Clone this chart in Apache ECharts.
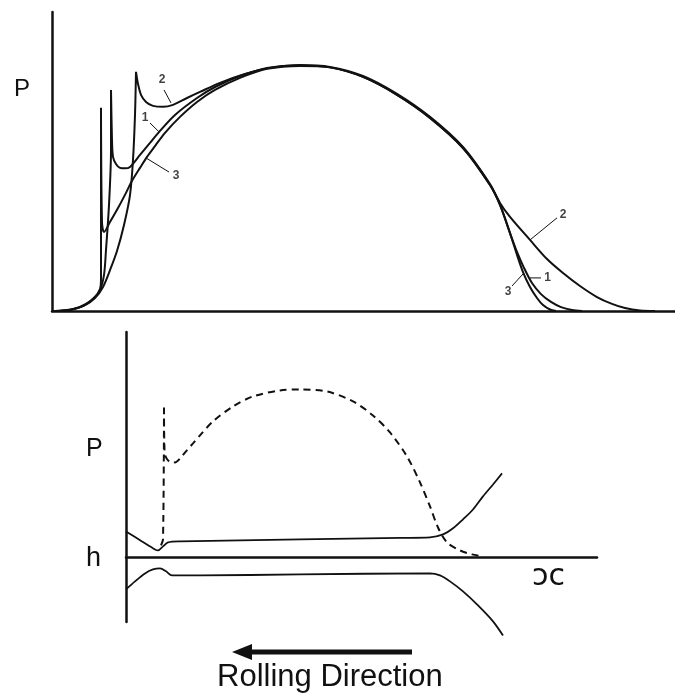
<!DOCTYPE html>
<html>
<head>
<meta charset="utf-8">
<title>EHL pressure and film thickness</title>
<script src="https://cdn.jsdelivr.net/npm/echarts@6/dist/echarts.min.js"></script>
<style>
  html, body { margin: 0; padding: 0; background: #fff; }
  #chart { width: 675px; height: 695px; }
</style>
</head>
<body>
<div id="chart"></div>
<script>
// x in Hertz half-widths (0 = contact centre), P normalised to the Hertz peak.
// A null entry splits a curve at a pressure spike so the smoothing keeps it sharp.
const curve1 = [
  [-1.22, 0], [-1.15, 0.004], [-1.085, 0.02], [-1.035, 0.049], [-1.0, 0.086],
  [-0.98, 0.147], [-0.97, 0.249], [-0.955, 0.433], [-0.945, 0.657], [-0.945, 0.902],
  null,
  [-0.945, 0.902], [-0.94, 0.698], [-0.935, 0.629], [-0.92, 0.6], [-0.9, 0.584],
  [-0.875, 0.582], [-0.85, 0.588], [-0.8, 0.637], [-0.75, 0.686], [-0.7, 0.735],
  [-0.625, 0.8], [-0.515, 0.869], [-0.425, 0.914], [-0.3, 0.959], [-0.165, 0.992],
  [0, 1.002], [0.15, 0.994], [0.315, 0.955], [0.485, 0.882], [0.65, 0.788],
  [0.815, 0.665], [0.95, 0.514], [1.0, 0.433], [1.05, 0.318], [1.085, 0.241],
  [1.12, 0.176], [1.16, 0.114], [1.205, 0.069], [1.255, 0.037], [1.305, 0.016],
  [1.36, 0.004], [1.41, 0]
];

const curve2 = [
  [-1.2, 0], [-1.14, 0.006], [-1.075, 0.024], [-1.025, 0.053], [-0.985, 0.098],
  [-0.95, 0.167], [-0.915, 0.245], [-0.88, 0.351], [-0.85, 0.473], [-0.835, 0.616],
  [-0.825, 0.8], [-0.82, 0.976],
  null,
  [-0.82, 0.976], [-0.81, 0.927], [-0.795, 0.882], [-0.77, 0.853], [-0.735, 0.837],
  [-0.685, 0.833], [-0.635, 0.841], [-0.565, 0.869], [-0.5, 0.894], [-0.4, 0.931],
  [-0.275, 0.967], [-0.15, 0.992], [0, 1.004], [0.15, 0.996], [0.315, 0.959],
  [0.485, 0.886], [0.65, 0.792], [0.815, 0.669], [0.95, 0.518], [1.0, 0.441],
  [1.05, 0.384], [1.15, 0.29], [1.235, 0.212], [1.315, 0.155], [1.4, 0.102],
  [1.485, 0.057], [1.56, 0.029], [1.625, 0.012], [1.7, 0.002], [1.775, 0]
];

const curve3 = [
  [-1.24, 0], [-1.19, 0.002], [-1.125, 0.01], [-1.07, 0.029], [-1.025, 0.057],
  [-1.0, 0.09], [-0.995, 0.135], [-0.995, 0.829],
  null,
  [-0.995, 0.829], [-0.99, 0.363], [-0.98, 0.322], [-0.95, 0.363], [-0.91, 0.42],
  [-0.87, 0.482], [-0.84, 0.531], [-0.8, 0.584], [-0.765, 0.629], [-0.725, 0.673],
  [-0.675, 0.727], [-0.6, 0.792], [-0.515, 0.853], [-0.425, 0.902], [-0.3, 0.951],
  [-0.165, 0.988], [0, 1.0], [0.15, 0.994], [0.315, 0.955], [0.485, 0.882],
  [0.65, 0.788], [0.815, 0.665], [0.95, 0.514], [1.0, 0.433], [1.05, 0.318],
  [1.085, 0.229], [1.115, 0.159], [1.15, 0.098], [1.185, 0.053], [1.215, 0.024],
  [1.25, 0.006], [1.28, 0]
];

// curve numbers and their leader lines
const curveNames = ['2', '1', '3', '2', '1', '3'];
const namePos = [
  [-0.69, 0.943], [-0.775, 0.788], [-0.62, 0.551],
  [1.315, 0.392], [1.238, 0.135], [1.04, 0.08]
];
const leaders = [
  [[-0.68, 0.902], [-0.645, 0.849]],
  [[-0.75, 0.767], [-0.705, 0.731]],
  [[-0.765, 0.622], [-0.655, 0.567]],
  [[1.285, 0.38], [1.15, 0.29]],
  [[1.15, 0.135], [1.205, 0.135]],
  [[1.06, 0.102], [1.115, 0.151]]
];

// lower panel: pressure (dashed) and film surfaces (upper and lower)
const pressure = [
  [-0.695, 0.071], [-0.685, 0.106], [-0.68, 0.882],
  null,
  [-0.68, 0.882], [-0.6775, 0.635], [-0.67, 0.588], [-0.65, 0.562], [-0.625, 0.559],
  [-0.6, 0.582], [-0.57, 0.624], [-0.535, 0.671], [-0.5, 0.718], [-0.435, 0.8],
  [-0.335, 0.888], [-0.235, 0.947], [-0.1, 0.982], [0, 0.988], [0.135, 0.976],
  [0.265, 0.918], [0.365, 0.835], [0.45, 0.735], [0.535, 0.594], [0.6, 0.441],
  [0.65, 0.3], [0.69, 0.176], [0.735, 0.088], [0.8, 0.041], [0.86, 0.018],
  [0.915, 0.006]
];
const filmUpper = [
  [-0.87, 0.153], [-0.79, 0.094], [-0.725, 0.047], [-0.71, 0.041], [-0.685, 0.065],
  [-0.66, 0.088], [-0.6, 0.094], [0, 0.106], [0.5, 0.115], [0.65, 0.118],
  [0.715, 0.135], [0.765, 0.171], [0.815, 0.224], [0.865, 0.282], [0.915, 0.359],
  [0.965, 0.429], [1.01, 0.494]
];
const filmLower = [
  [-0.87, -0.188], [-0.825, -0.141], [-0.775, -0.094], [-0.735, -0.071], [-0.7, -0.065],
  [-0.67, -0.082], [-0.64, -0.106], [-0.5, -0.106], [0, -0.1], [0.65, -0.094],
  [0.7, -0.106], [0.75, -0.141], [0.815, -0.2], [0.89, -0.282], [0.965, -0.376],
  [1.015, -0.459]
];

const INK = '#111';
const pts = arr => arr.map(p => p || [NaN, NaN]);

const axisBase = {
  type: 'value',
  axisTick: { show: false },
  axisLabel: { show: false },
  splitLine: { show: false }
};
const axisLine = (onZero, w) => ({ show: true, onZero: onZero, lineStyle: { color: INK, width: w } });

const curveSeries = (data, xi) => ({
  type: 'line',
  xAxisIndex: xi, yAxisIndex: xi,
  data: pts(data),
  showSymbol: false,
  smooth: 0.3,
  silent: true,
  lineStyle: { color: INK, width: 2 }
});

const leaderData = [];
leaders.forEach(seg => { leaderData.push(seg[0], seg[1], [NaN, NaN]); });

const chart = echarts.init(document.getElementById('chart'), null, { renderer: 'canvas' });
chart.setOption({
  animation: false,
  backgroundColor: '#fff',
  grid: [
    { left: 52, top: 12, width: 623, height: 299 },
    { left: 126, top: 332, width: 471, height: 290 }
  ],
  xAxis: [
    Object.assign({}, axisBase, { gridIndex: 0, min: -1.24, max: 1.875, axisLine: axisLine(true, 2.5) }),
    Object.assign({}, axisBase, { gridIndex: 1, min: -0.87, max: 1.485, axisLine: axisLine(true, 2.5) })
  ],
  yAxis: [
    Object.assign({}, axisBase, { gridIndex: 0, min: 0, max: 1.22, axisLine: axisLine(false, 2.5) }),
    Object.assign({}, axisBase, { gridIndex: 1, min: -0.38, max: 1.326, axisLine: axisLine(false, 2.5) })
  ],
  series: [
    curveSeries(curve1, 0),
    curveSeries(curve2, 0),
    curveSeries(curve3, 0),
    {
      type: 'line', xAxisIndex: 0, yAxisIndex: 0, data: leaderData,
      showSymbol: false, silent: true, lineStyle: { color: INK, width: 1 }
    },
    {
      type: 'scatter', xAxisIndex: 0, yAxisIndex: 0, silent: true,
      symbolSize: 1, itemStyle: { color: 'transparent' },
      data: namePos.map((p, i) => ({ name: curveNames[i], value: p })),
      label: {
        show: true, position: 'inside', formatter: '{b}',
        color: INK, fontFamily: 'Liberation Sans', fontWeight: 'bold', fontSize: 12
      }
    },
    Object.assign(curveSeries(pressure, 1), {
      lineStyle: { color: INK, width: 2, type: [7, 5] }
    }),
    Object.assign(curveSeries(filmUpper, 1), { lineStyle: { color: INK, width: 1.8 } }),
    Object.assign(curveSeries(filmLower, 1), { clip: false, lineStyle: { color: INK, width: 1.8 } })
  ],
  graphic: [
    { type: 'text', left: 14, top: 77, style: { text: 'P', fontSize: 24, fontFamily: 'Liberation Sans', fill: INK } },
    { type: 'text', left: 86, top: 437, style: { text: 'P', fontSize: 25, fontFamily: 'Liberation Sans', fill: INK } },
    { type: 'text', left: 86, top: 545, style: { text: 'h', fontSize: 27, fontFamily: 'Liberation Sans', fill: INK } },
    { type: 'text', left: 532, top: 562, style: { text: 'ɔc', fontSize: 30, fontFamily: 'DejaVu Sans', fill: INK } },
    {
      type: 'group', left: 232, top: 644,
      children: [
        { type: 'line', shape: { x1: 16, y1: 8, x2: 180, y2: 8 }, style: { stroke: INK, lineWidth: 5 } },
        { type: 'polygon', shape: { points: [[0, 8], [20, 0], [20, 16]] }, style: { fill: INK } }
      ]
    },
    { type: 'text', left: 217, top: 662, style: { text: 'Rolling Direction', fontSize: 31, fontFamily: 'Liberation Sans', fill: INK } }
  ]
});
</script>
</body>
</html>
